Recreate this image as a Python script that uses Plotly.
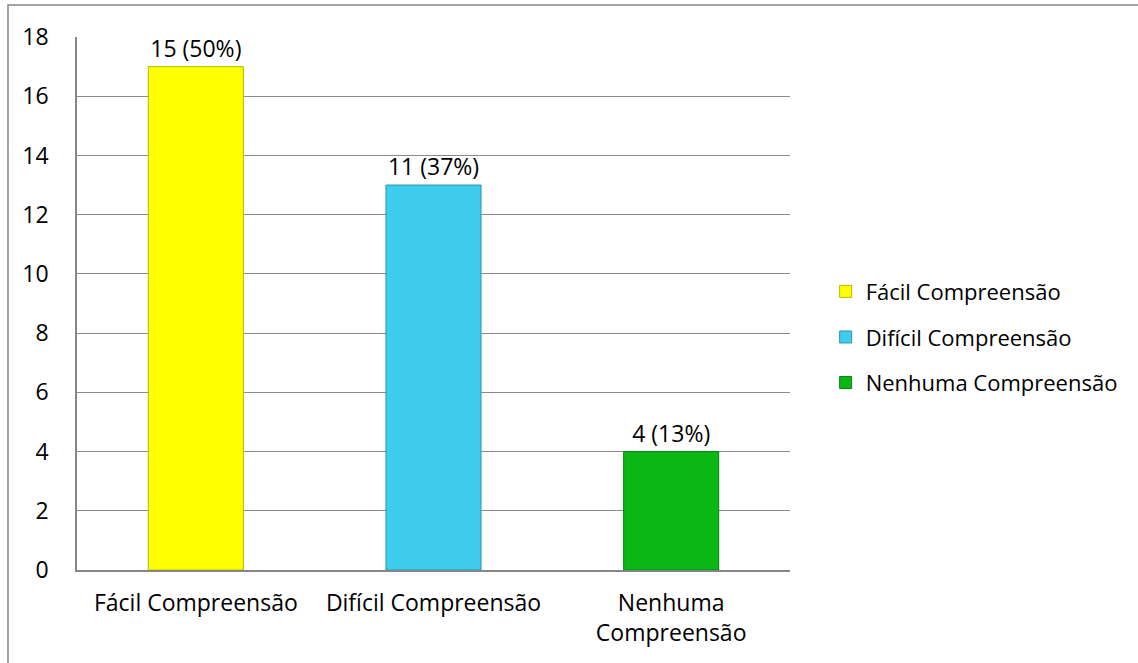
import plotly.graph_objects as go

categories = ["Fácil Compreensão", "Difícil Compreensão", "Nenhuma Compreensão"]
tick_labels = ["Fácil Compreensão", "Difícil Compreensão", "Nenhuma<br>Compreensão"]
bar_values = [17, 13, 4]
bar_labels = ["15 (50%)", "11 (37%)", "4 (13%)"]
colors = ["#FFFF00", "#3FCDEE", "#0AB714"]
edge_colors = ["#B8B800", "#2A93AE", "#078010"]

FONT = "Open Sans, Calibri, sans-serif"

fig = go.Figure()
for i, cat in enumerate(categories):
    fig.add_trace(go.Bar(
        x=[tick_labels[i]], y=[bar_values[i]], name=cat,
        marker=dict(color=colors[i], line=dict(color=edge_colors[i], width=1)),
        text=[bar_labels[i]], textposition="outside", cliponaxis=False,
        textfont=dict(size=23, color="#000000", family=FONT),
        legendgroup=cat, width=0.4,
    ))

fig.update_layout(
    width=1138, height=663,
    margin=dict(l=77, r=348, t=37, b=93),
    paper_bgcolor="white", plot_bgcolor="white",
    barmode="overlay",
    font=dict(family=FONT, size=22, color="#000000"),
    showlegend=True,
    legend=dict(x=1.050, y=0.437, xanchor="left", yanchor="middle",
                font=dict(size=22, family=FONT), tracegroupgap=14,
                traceorder="grouped", itemwidth=30),
    xaxis=dict(categoryorder="array", categoryarray=tick_labels,
               showline=True, linecolor="#868686", linewidth=1.5,
               showgrid=False, ticks="", tickfont=dict(size=23),
               ticklabelstandoff=12),
    yaxis=dict(range=[0, 18], dtick=2, showgrid=True, gridcolor="#8A8A8A",
               gridwidth=1, showline=True, linecolor="#868686", linewidth=1.5,
               ticks="", ticklabelstandoff=22, tickfont=dict(size=23),
               zeroline=False),
    shapes=[dict(type="rect", xref="paper", yref="paper",
                 x0=-0.0968, x1=1.7, y0=-0.3, y1=1.060,
                 line=dict(color="#868686", width=1.5), fillcolor="rgba(0,0,0,0)",
                 layer="below")],
)

fig.write_html("out.html")
